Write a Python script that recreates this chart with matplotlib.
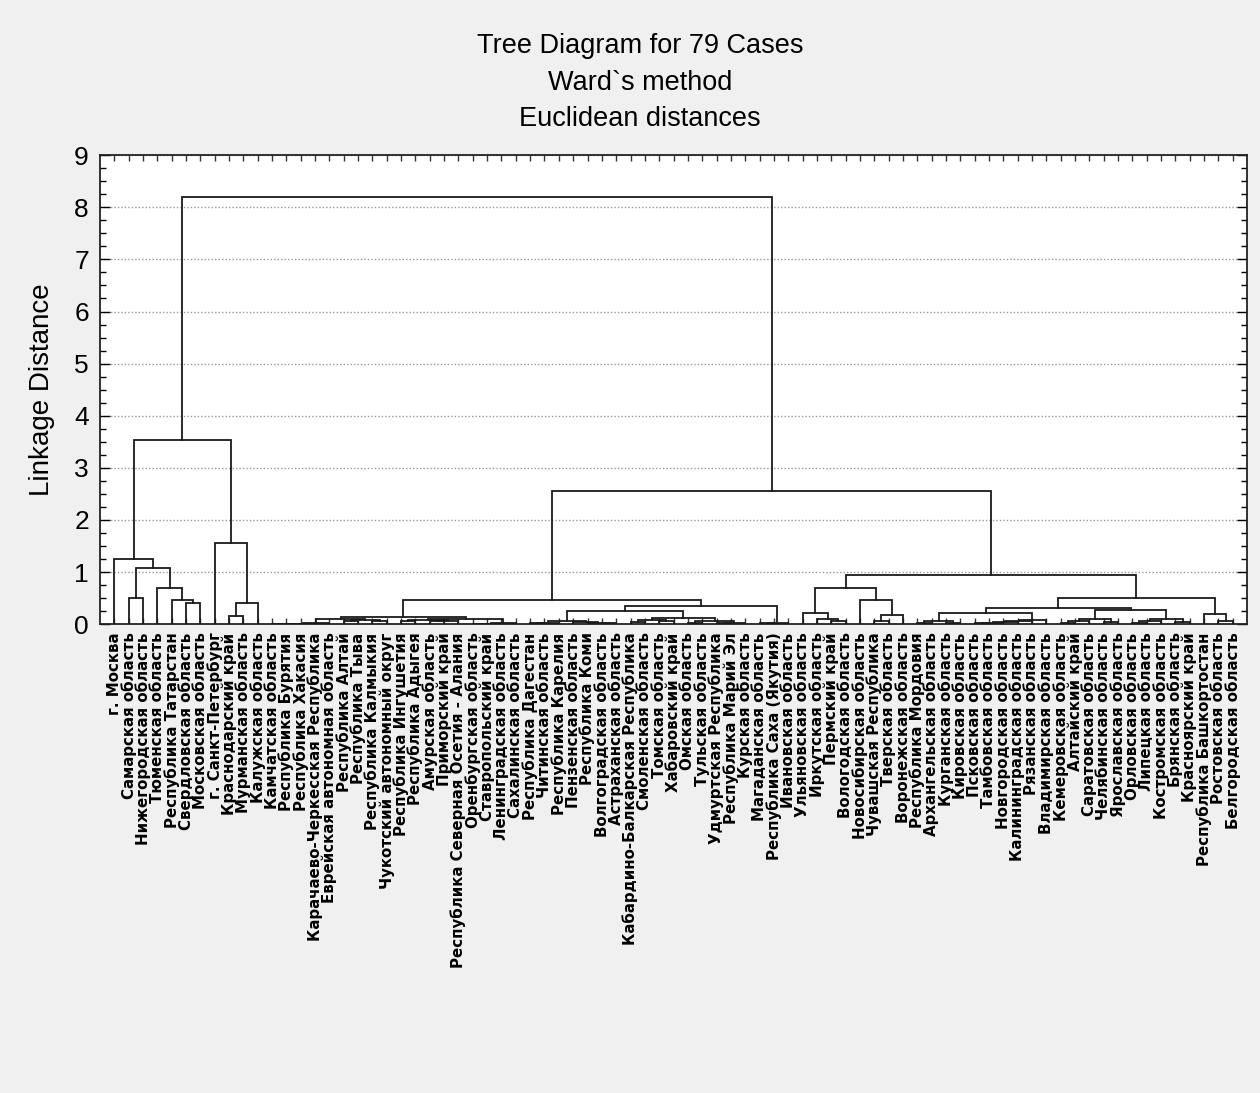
import matplotlib
matplotlib.use("Agg")
import matplotlib.pyplot as plt
from matplotlib.ticker import MultipleLocator

# -------------------------------------------------
# Data
# -------------------------------------------------

regions = [
    "г. Москва", "Самарская область", "Нижегородская область", "Тюменская область",
    "Республика Татарстан", "Свердловская область", "Московская область",
    "г. Санкт-Петербург", "Краснодарский край", "Мурманская область",
    "Калужская область", "Камчатская область", "Республика Бурятия",
    "Республика Хакасия", "Карачаево-Черкесская Республика",
    "Еврейская автономная область", "Республика Алтай", "Республика Тыва",
    "Республика Калмыкия", "Чукотский автономный округ", "Республика Ингушетия",
    "Республика Адыгея", "Амурская область", "Приморский край",
    "Республика Северная Осетия - Алания", "Оренбургская область",
    "Ставропольский край", "Ленинградская область", "Сахалинская область",
    "Республика Дагестан", "Читинская область", "Республика Карелия",
    "Пензенская область", "Республика Коми", "Волгоградская область",
    "Астраханская область", "Кабардино-Балкарская Республика",
    "Смоленская область", "Томская область", "Хабаровский край",
    "Омская область", "Тульская область", "Удмуртская Республика",
    "Республика Марий Эл", "Курская область", "Магаданская область",
    "Республика Саха (Якутия)", "Ивановская область", "Ульяновская область",
    "Иркутская область", "Пермский край", "Вологодская область",
    "Новосибирская область", "Чувашская Республика", "Тверская область",
    "Воронежская область", "Республика Мордовия", "Архангельская область",
    "Курганская область", "Кировская область", "Псковская область",
    "Тамбовская область", "Новгородская область", "Калининградская область",
    "Рязанская область", "Владимирская область", "Кемеровская область",
    "Алтайский край", "Саратовская область", "Челябинская область",
    "Ярославская область", "Орловская область", "Липецкая область",
    "Костромская область", "Брянская область", "Красноярский край",
    "Республика Башкортостан", "Ростовская область", "Белгородская область",
]

# tree nodes: leaf = index in regions, node = (left, right, linkage distance)
moscow = (0, ((1, 2, 0.51), (3, (4, (5, 6, 0.41), 0.47), 0.70), 1.08), 1.24)
spb = (7, ((8, 9, 0.15), 10, 0.41), 1.55)
big_left = (moscow, spb, 3.53)

g11 = ((((11, 12, 0.01), 13, 0.01), 14, 0.01), 15, 0.02)
g16 = ((16, 17, 0.05), (18, 19, 0.05), 0.07)
g20 = ((20, 21, 0.05), ((22, 23, 0.05), 24, 0.06), 0.07)
g25 = (((25, 26, 0.01), 27, 0.01), 28, 0.02)
c1 = ((g11, g16, 0.09), (g20, g25, 0.09), 0.13)

c2_left = (((29, 30, 0.02), 31, 0.03), (32, (33, (34, 35, 0.02), 0.03), 0.04), 0.06)
c2_right = (((36, 37, 0.04), (38, 39, 0.05), 0.07),
            ((40, 41, 0.03), ((42, 43, 0.02), 44, 0.03), 0.05), 0.12)
c2 = ((c2_left, c2_right, 0.26), ((45, 46, 0.02), 47, 0.03), 0.35)
cluster1 = (c1, c2, 0.47)

d1 = ((48, (49, (50, 51, 0.06), 0.10), 0.22),
      (52, ((53, 54, 0.05), 55, 0.17), 0.47), 0.70)
d2 = (((56, 57, 0.03), (58, 59, 0.03), 0.05),
      (((((60, 61, 0.02), 62, 0.03), 63, 0.04), 64, 0.05), 65, 0.07), 0.22)
d3 = ((((66, 67, 0.03), 68, 0.05), (69, 70, 0.04), 0.10),
      (((71, 72, 0.03), 73, 0.05), (74, 75, 0.04), 0.09), 0.27)
d4 = (76, (77, 78, 0.06), 0.19)
cluster2 = (d1, ((d2, d3, 0.30), d4, 0.51), 0.94)

big_right = (cluster1, cluster2, 2.55)
tree = (big_left, big_right, 8.2)

# -------------------------------------------------
# Figure
# -------------------------------------------------

plt.rcParams["font.family"] = ["Liberation Sans", "DejaVu Sans"]

fig = plt.figure(figsize=(12.6, 10.93), dpi=100, facecolor="#f0f0f0")
ax = fig.add_axes([0.0794, 0.429, 0.9103, 0.429])
ax.set_facecolor("white")

line_color = "#1a1a1a"


def draw(node):
    if isinstance(node, int):
        return node + 1, 0.0
    left, right, h = node
    x1, h1 = draw(left)
    x2, h2 = draw(right)
    ax.plot([x1, x1, x2, x2], [h1, h, h, h2], color=line_color, lw=1.3,
            solid_joinstyle="miter", zorder=3)
    return (x1 + x2) / 2, h


draw(tree)

n = len(regions)
ax.set_xlim(0, n + 1)
ax.set_ylim(0, 9)

ax.yaxis.set_major_locator(MultipleLocator(1))
ax.yaxis.set_minor_locator(MultipleLocator(0.25))
ax.set_xticks(range(1, n + 1))
ax.set_xticklabels(regions, rotation=90, fontsize=10.8, fontweight="bold",
                   family=["DejaVu Sans"])
ax.tick_params(axis="x", direction="in", length=4, width=1, top=True,
               pad=6, color="#333333")
ax.tick_params(axis="y", which="major", direction="in", length=7, width=1,
               right=True, labelsize=19, pad=8)
ax.tick_params(axis="y", which="minor", direction="in", length=4, width=1,
               right=True)

ax.grid(axis="y", which="major", linestyle=(0, (1, 1.5)), color="#999999",
        lw=1.0, zorder=0)
for spine in ax.spines.values():
    spine.set_linewidth(1.3)
    spine.set_color("#222222")

ax.set_ylabel("Linkage Distance", fontsize=20, labelpad=14)

fig.text(0.508, 0.958, "Tree Diagram for 79 Cases", ha="center", va="center",
         fontsize=19.5)
fig.text(0.508, 0.924, "Ward`s method", ha="center", va="center", fontsize=19.5)
fig.text(0.508, 0.891, "Euclidean distances", ha="center", va="center",
         fontsize=19.5)

fig.savefig("out.png", dpi=100, facecolor=fig.get_facecolor())
